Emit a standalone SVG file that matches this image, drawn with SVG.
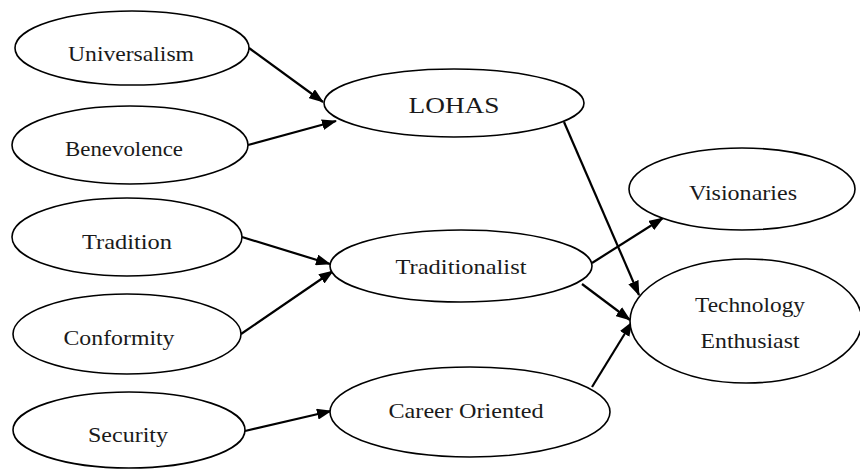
<svg xmlns="http://www.w3.org/2000/svg" width="860" height="470" viewBox="0 0 860 470">
<defs>
<marker id="arr" markerUnits="userSpaceOnUse" markerWidth="15" markerHeight="11" refX="14" refY="5.5" orient="auto">
<path d="M0,0 L15,5.5 L0,11 z" fill="#000"/>
</marker>
<style>
.n{fill:#fff;stroke:#000;stroke-width:1.6}
.t{font-family:"Liberation Serif","Times New Roman",serif;font-size:22px;fill:#1a1a1a;text-anchor:middle}
.c{stroke:#000;stroke-width:2.2;fill:none;marker-end:url(#arr)}
</style>
</defs>
<rect width="860" height="470" fill="#fff"/>
<g id="connectors">
<line class="c" x1="249" y1="48" x2="323" y2="102"/>
<line class="c" x1="248" y1="145" x2="336" y2="121"/>
<line class="c" x1="242" y1="237" x2="330" y2="264"/>
<line class="c" x1="241" y1="334" x2="333" y2="271"/>
<line class="c" x1="245" y1="431" x2="331" y2="411"/>
<line class="c" x1="564" y1="122" x2="639" y2="295"/>
<line class="c" x1="592" y1="263" x2="663" y2="218"/>
<line class="c" x1="582" y1="284" x2="630" y2="320"/>
<line class="c" x1="592" y1="387" x2="632" y2="322"/>
</g>
<g id="universalism"><ellipse class="n" cx="132" cy="48" rx="117" ry="37"/><text class="t" x="131" y="61" textLength="126" lengthAdjust="spacingAndGlyphs">Universalism</text></g>
<g id="benevolence"><ellipse class="n" cx="130" cy="145" rx="118" ry="39"/><text class="t" x="124" y="156" textLength="118" lengthAdjust="spacingAndGlyphs">Benevolence</text></g>
<g id="tradition"><ellipse class="n" cx="127" cy="237" rx="115" ry="39"/><text class="t" x="127" y="249" textLength="90" lengthAdjust="spacingAndGlyphs">Tradition</text></g>
<g id="conformity"><ellipse class="n" cx="127" cy="334" rx="114" ry="40"/><text class="t" x="119" y="345" textLength="111" lengthAdjust="spacingAndGlyphs">Conformity</text></g>
<g id="security"><ellipse class="n" cx="129" cy="430" rx="116" ry="38"/><text class="t" x="128" y="442" textLength="80" lengthAdjust="spacingAndGlyphs">Security</text></g>
<g id="lohas"><ellipse class="n" cx="454" cy="103" rx="130" ry="34"/><text class="t" x="454" y="113" textLength="91" lengthAdjust="spacingAndGlyphs" style="font-size:23px">LOHAS</text></g>
<g id="traditionalist"><ellipse class="n" cx="461" cy="266" rx="131" ry="36"/><text class="t" x="461" y="274" textLength="131" lengthAdjust="spacingAndGlyphs">Traditionalist</text></g>
<g id="career-oriented"><ellipse class="n" cx="470" cy="412" rx="140" ry="45"/><text class="t" x="466" y="418" textLength="155" lengthAdjust="spacingAndGlyphs">Career Oriented</text></g>
<g id="visionaries"><ellipse class="n" cx="742" cy="189" rx="113" ry="41"/><text class="t" x="743" y="200" textLength="108" lengthAdjust="spacingAndGlyphs">Visionaries</text></g>
<g id="technology-enthusiast"><ellipse class="n" cx="746" cy="321" rx="116" ry="62"/><text class="t" x="750" y="312" textLength="110" lengthAdjust="spacingAndGlyphs">Technology</text><text class="t" x="750" y="348" textLength="99" lengthAdjust="spacingAndGlyphs">Enthusiast</text></g>
</svg>
